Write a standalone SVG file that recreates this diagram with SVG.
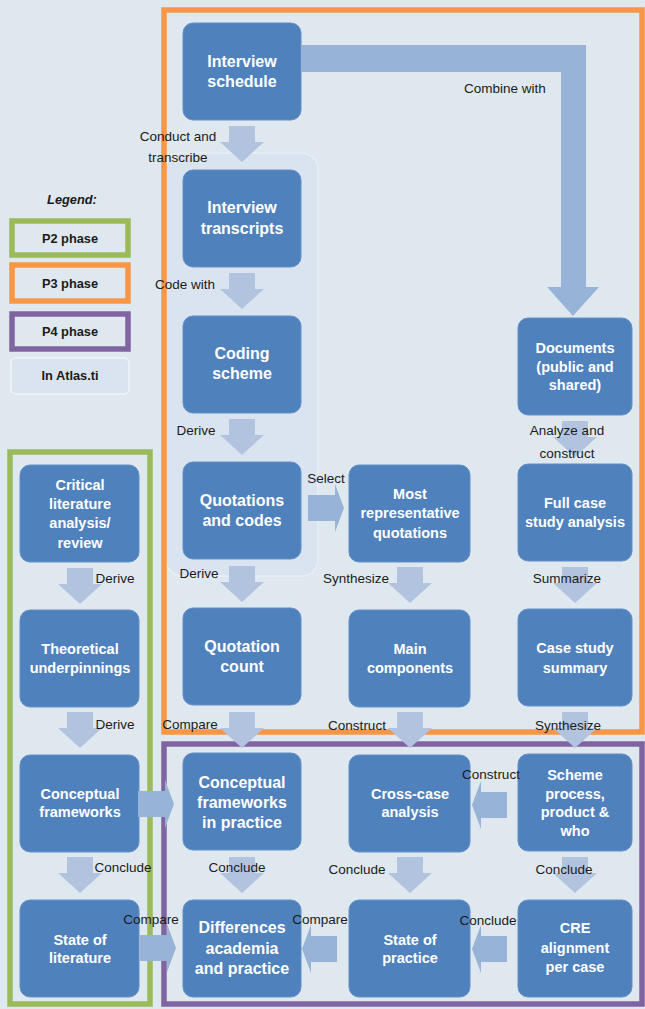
<svg xmlns="http://www.w3.org/2000/svg" width="645" height="1009" viewBox="0 0 645 1009">
  <defs>
    <style>
      .node rect { fill: #4f81bd; stroke: #6590c6; stroke-width: 1; }
      .node text { fill: #ffffff; font-family: "Liberation Sans", Arial, sans-serif; font-weight: bold; text-anchor: middle; }
      .lg { font-size: 16px; }
      .sm { font-size: 14.5px; }
      .lbl { fill: #1b1b1b; font-family: "Liberation Sans", Arial, sans-serif; font-size: 13.5px; text-anchor: middle; }
      .legend-text { fill: #1b1b1b; font-family: "Liberation Sans", Arial, sans-serif; font-size: 12.8px; font-weight: bold; text-anchor: middle; }
      .down { fill: #b2c3df; }
      .side { fill: #97b4d8; }
      .frame { fill: none; stroke-width: 5.5; }
    </style>
    <!-- block arrow pointing down, origin at top centre of the shaft -->
    <path id="arrowDown" d="M-13,0 H13 V16 H22 L0,36 L-22,16 H-13 Z"/>
    <!-- block arrow pointing right, origin at tail centre -->
    <path id="arrowRight" d="M0,-13 H27 V-24 L36,0 L27,24 V13 H0 Z"/>
    <!-- block arrow pointing left, origin at tip -->
    <path id="arrowLeft" d="M0,0 L9,-24 V-13 H35 V13 H9 V24 Z"/>
  </defs>

  <!-- canvas -->
  <rect x="0" y="0" width="645" height="1009" fill="#dee8ee"/>

  <!-- Atlas.ti working area behind the interview column -->
  <rect id="atlas-area" x="166" y="153" width="152" height="423" rx="16" fill="#dae4f0" stroke="#e8eef6" stroke-width="1.5"/>

  <!-- phase frames -->
  <g id="phase-frames">
    <rect class="frame" x="164" y="10" width="478" height="722" stroke="#f79646"/>
    <rect class="frame" x="164" y="744" width="478" height="260" stroke="#8064a2"/>
    <rect class="frame" x="10" y="452" width="140" height="552" stroke="#9bbb59"/>
  </g>

  <!-- legend -->
  <g id="legend">
    <text x="72" y="204" class="legend-text" font-style="italic">Legend:</text>
    <rect x="12" y="221" width="116" height="34" fill="none" stroke="#9bbb59" stroke-width="5.5"/>
    <text x="70" y="243" class="legend-text">P2 phase</text>
    <rect x="12" y="265" width="116" height="36" fill="none" stroke="#f79646" stroke-width="5.5"/>
    <text x="70" y="288" class="legend-text">P3 phase</text>
    <rect x="12" y="314" width="116" height="35" fill="none" stroke="#8064a2" stroke-width="5.5"/>
    <text x="70" y="336" class="legend-text">P4 phase</text>
    <rect x="11" y="358" width="118" height="36" rx="5" fill="#dae4f0" stroke="#eef3f8" stroke-width="1.5"/>
    <text x="70" y="380" class="legend-text">In Atlas.ti</text>
  </g>

  <!-- nodes -->
  <g id="interview-schedule" class="node">
    <rect x="183" y="23" width="118" height="97" rx="10"/>
    <text x="242" y="67" class="lg">Interview<tspan x="242" dy="20">schedule</tspan></text>
  </g>
  <g id="interview-transcripts" class="node">
    <rect x="183" y="170" width="118" height="97" rx="10"/>
    <text x="242" y="213" class="lg">Interview<tspan x="242" dy="21">transcripts</tspan></text>
  </g>
  <g id="coding-scheme" class="node">
    <rect x="183" y="316" width="118" height="97" rx="10"/>
    <text x="242" y="359" class="lg">Coding<tspan x="242" dy="20">scheme</tspan></text>
  </g>
  <g id="documents" class="node">
    <rect x="518" y="318" width="114" height="97" rx="10"/>
    <text x="575" y="353" class="sm">Documents<tspan x="575" dy="19">(public and</tspan><tspan x="575" dy="18">shared)</tspan></text>
  </g>
  <g id="critical-literature" class="node">
    <rect x="20" y="465" width="119" height="97" rx="10"/>
    <text x="80" y="490" class="sm">Critical<tspan x="80" dy="18.5">literature</tspan><tspan x="80" dy="19">analysis/</tspan><tspan x="80" dy="20">review</tspan></text>
  </g>
  <g id="quotations-codes" class="node">
    <rect x="183" y="462" width="118" height="97" rx="10"/>
    <text x="242" y="506" class="lg">Quotations<tspan x="242" dy="20">and codes</tspan></text>
  </g>
  <g id="most-representative" class="node">
    <rect x="349" y="465" width="121" height="97" rx="10"/>
    <text x="410" y="499" class="sm">Most<tspan x="410" dy="19">representative</tspan><tspan x="410" dy="20">quotations</tspan></text>
  </g>
  <g id="full-case-study" class="node">
    <rect x="518" y="464" width="114" height="97" rx="10"/>
    <text x="575" y="508" class="sm">Full case<tspan x="575" dy="19">study analysis</tspan></text>
  </g>
  <g id="theoretical-underpinnings" class="node">
    <rect x="20" y="610" width="119" height="97" rx="10"/>
    <text x="80" y="654" class="sm">Theoretical<tspan x="80" dy="19">underpinnings</tspan></text>
  </g>
  <g id="quotation-count" class="node">
    <rect x="183" y="608" width="118" height="97" rx="10"/>
    <text x="242" y="652" class="lg">Quotation<tspan x="242" dy="20">count</tspan></text>
  </g>
  <g id="main-components" class="node">
    <rect x="349" y="610" width="121" height="97" rx="10"/>
    <text x="410" y="654" class="sm">Main<tspan x="410" dy="19">components</tspan></text>
  </g>
  <g id="case-study-summary" class="node">
    <rect x="518" y="609" width="114" height="97" rx="10"/>
    <text x="575" y="653" class="sm">Case study<tspan x="575" dy="20">summary</tspan></text>
  </g>
  <g id="conceptual-frameworks" class="node">
    <rect x="20" y="755" width="119" height="97" rx="10"/>
    <text x="80" y="799" class="sm">Conceptual<tspan x="80" dy="18">frameworks</tspan></text>
  </g>
  <g id="frameworks-in-practice" class="node">
    <rect x="183" y="753" width="118" height="97" rx="10"/>
    <text x="242" y="788" class="lg">Conceptual<tspan x="242" dy="20">frameworks</tspan><tspan x="242" dy="20">in practice</tspan></text>
  </g>
  <g id="cross-case-analysis" class="node">
    <rect x="349" y="755" width="121" height="97" rx="10"/>
    <text x="410" y="799" class="sm">Cross-case<tspan x="410" dy="18">analysis</tspan></text>
  </g>
  <g id="scheme-process" class="node">
    <rect x="518" y="754" width="114" height="97" rx="10"/>
    <text x="575" y="780" class="sm">Scheme<tspan x="575" dy="19">process,</tspan><tspan x="575" dy="18">product &amp;</tspan><tspan x="575" dy="19">who</tspan></text>
  </g>
  <g id="state-of-literature" class="node">
    <rect x="20" y="900" width="119" height="97" rx="10"/>
    <text x="80" y="945" class="sm">State of<tspan x="80" dy="18">literature</tspan></text>
  </g>
  <g id="differences" class="node">
    <rect x="183" y="900" width="118" height="97" rx="10"/>
    <text x="242" y="933" class="lg">Differences<tspan x="242" dy="21">academia</tspan><tspan x="242" dy="20">and practice</tspan></text>
  </g>
  <g id="state-of-practice" class="node">
    <rect x="349" y="900" width="121" height="97" rx="10"/>
    <text x="410" y="945" class="sm">State of<tspan x="410" dy="18">practice</tspan></text>
  </g>
  <g id="cre-alignment" class="node">
    <rect x="518" y="900" width="114" height="97" rx="10"/>
    <text x="575" y="933" class="sm">CRE<tspan x="575" dy="20">alignment</tspan><tspan x="575" dy="19">per case</tspan></text>
  </g>

  <!-- connectors -->
  <g id="connectors">
    <!-- combine with: schedule to documents -->
    <path class="side" d="M301,45 H586 V287 H599 L573,316 L547,287 H561 V72 H301 Z"/>

    <!-- vertical flow, interview column -->
    <use href="#arrowDown" class="down" x="242" y="126"/>
    <use href="#arrowDown" class="down" x="242" y="273"/>
    <use href="#arrowDown" class="down" x="242" y="419"/>
    <use href="#arrowDown" class="down" x="242" y="566"/>
    <use href="#arrowDown" class="down" x="242" y="712"/>
    <use href="#arrowDown" class="down" x="242" y="857"/>
    <!-- literature column -->
    <use href="#arrowDown" class="down" x="80" y="568"/>
    <use href="#arrowDown" class="down" x="80" y="712"/>
    <use href="#arrowDown" class="down" x="80" y="857"/>
    <!-- quotation synthesis column -->
    <use href="#arrowDown" class="down" x="410" y="567"/>
    <use href="#arrowDown" class="down" x="410" y="712"/>
    <use href="#arrowDown" class="down" x="410" y="857"/>
    <!-- case study column -->
    <use href="#arrowDown" class="down" x="575" y="421"/>
    <use href="#arrowDown" class="down" x="575" y="567"/>
    <use href="#arrowDown" class="down" x="575" y="712"/>
    <use href="#arrowDown" class="down" x="575" y="857"/>

    <!-- sideways flow -->
    <use href="#arrowRight" class="side" x="308" y="508"/>
    <use href="#arrowRight" class="side" x="138" y="804"/>
    <use href="#arrowRight" class="side" x="140" y="948"/>
    <use href="#arrowLeft" class="side" x="472" y="805"/>
    <use href="#arrowLeft" class="side" x="472" y="949"/>
    <use href="#arrowLeft" class="side" x="302" y="949"/>
  </g>

  <!-- connector labels -->
  <g id="connector-labels">
    <text class="lbl" x="178" y="141">Conduct and</text>
    <text class="lbl" x="178" y="162">transcribe</text>
    <text class="lbl" x="505" y="93">Combine with</text>
    <text class="lbl" x="185" y="289">Code with</text>
    <text class="lbl" x="196" y="435">Derive</text>
    <text class="lbl" x="567" y="435">Analyze and</text>
    <text class="lbl" x="567" y="458">construct</text>
    <text class="lbl" x="326" y="483">Select</text>
    <text class="lbl" x="115" y="583">Derive</text>
    <text class="lbl" x="199" y="578">Derive</text>
    <text class="lbl" x="356" y="583">Synthesize</text>
    <text class="lbl" x="567" y="583">Summarize</text>
    <text class="lbl" x="115" y="729">Derive</text>
    <text class="lbl" x="190" y="729">Compare</text>
    <text class="lbl" x="357" y="730">Construct</text>
    <text class="lbl" x="568" y="730">Synthesize</text>
    <text class="lbl" x="491" y="779">Construct</text>
    <text class="lbl" x="123" y="872">Conclude</text>
    <text class="lbl" x="237" y="872">Conclude</text>
    <text class="lbl" x="357" y="874">Conclude</text>
    <text class="lbl" x="564" y="874">Conclude</text>
    <text class="lbl" x="151" y="924">Compare</text>
    <text class="lbl" x="320" y="924">Compare</text>
    <text class="lbl" x="488" y="925">Conclude</text>
  </g>
</svg>
